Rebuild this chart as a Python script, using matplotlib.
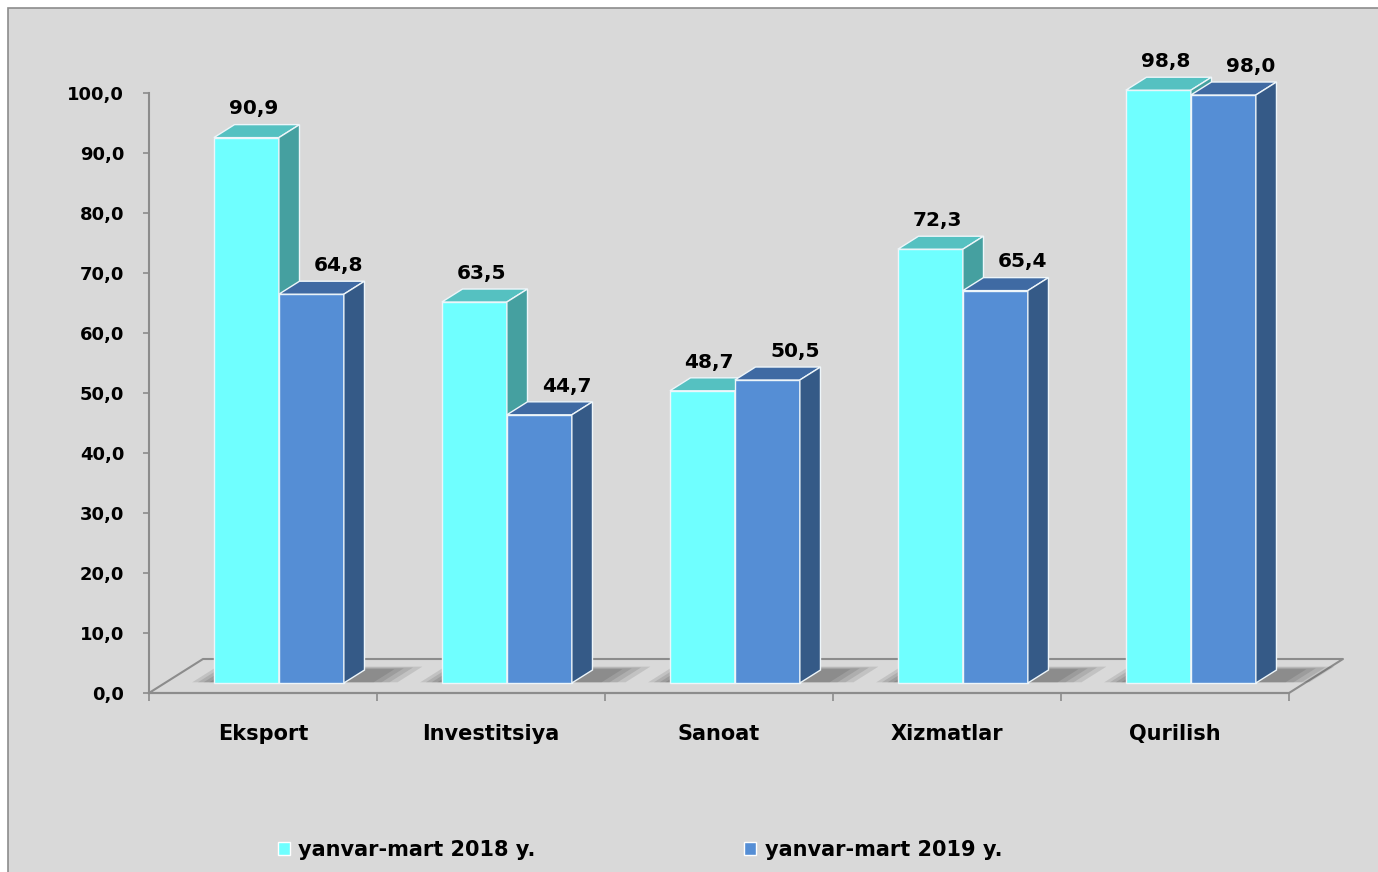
import numpy as np
import matplotlib.pyplot as plt
from matplotlib.patches import Polygon, Rectangle, Patch

# data
categories = ["Eksport", "Investitsiya", "Sanoat", "Xizmatlar", "Qurilish"]
values_2018 = [90.9, 63.5, 48.7, 72.3, 98.8]
values_2019 = [64.8, 44.7, 50.5, 65.4, 98.0]
series_names = ["yanvar-mart 2018 y.", "yanvar-mart 2019 y."]
yticks = np.arange(0, 101, 10)


def fmt(v):
    return f"{v:.1f}".replace(".", ",")


# colours: front, top, side
cyan = ("#6fffff", "#55c1c1", "#45a0a0")
blue = ("#558ed5", "#3f6aa3", "#355a87")

# pseudo 3d geometry (data units)
DX, DY = 0.2368, 5.667   # full floor depth
F0, FD = 0.294, 0.382    # bar start depth and bar depth (fractions)
W = 0.285                # bar width

fig = plt.figure(figsize=(13.78, 8.72), dpi=100)
fig.patch.set_facecolor("white")
fig.add_artist(Rectangle((8 / 1378, -0.02), 1.1, 864 / 872 + 0.02,
                         transform=fig.transFigure, facecolor="#d9d9d9",
                         edgecolor="#8c8c8c", lw=1.2, zorder=-5))

ax = fig.add_axes([0, 0, 1, 1])
ax.set_facecolor("none")
ax.set_xlim(-1.1535, 4.8904)
ax.set_ylim(-29.833, 115.5)


def draw_box(x0, v, cols):
    bx, by = x0 + F0 * DX, F0 * DY
    ox, oy = FD * DX, FD * DY
    front = [(bx, by), (bx + W, by), (bx + W, by + v), (bx, by + v)]
    top = [(bx, by + v), (bx + W, by + v), (bx + W + ox, by + v + oy), (bx + ox, by + v + oy)]
    side = [(bx + W, by), (bx + W + ox, by + oy), (bx + W + ox, by + v + oy), (bx + W, by + v)]
    for pts, c in zip((front, top, side), cols):
        ax.add_patch(Polygon(pts, closed=True, facecolor=c, edgecolor="#eef6fa",
                             lw=1.0, zorder=3))


def floor_poly(xa, xb, da, db):
    return [(xa + da * DX, da * DY), (xb + da * DX, da * DY),
            (xb + db * DX, db * DY), (xa + db * DX, db * DY)]


# floor outline
ax.plot([-0.5, 4.5, 4.5 + DX, -0.5 + DX, -0.5], [0, 0, DY, DY, 0],
        color="#8c8c8c", lw=1.5, zorder=1)

# soft shadows on the floor around each bar pair
for i in range(len(categories)):
    for k in range(4):
        e = 0.025 * (4 - k)
        ax.add_patch(Polygon(floor_poly(i - W - e, i + W + FD * DX + e * 1.4,
                                        F0 + 0.02, min(F0 + FD + e, 0.95)),
                             closed=True, facecolor="#000000", edgecolor="none",
                             lw=0, alpha=0.1, zorder=2))

# bars
for i in range(len(categories)):
    draw_box(i - W, values_2018[i], cyan)
    draw_box(i, values_2019[i], blue)
    ax.text(i - W / 2 + F0 * DX + 0.03, F0 * DY + values_2018[i] + 4.8, fmt(values_2018[i]),
            ha="center", va="center", fontsize=14.5, fontweight="bold", zorder=5)
    ax.text(i + W / 2 + F0 * DX + 0.12, F0 * DY + values_2019[i] + 4.8, fmt(values_2019[i]),
            ha="center", va="center", fontsize=14.5, fontweight="bold", zorder=5)

# axes
for s in ("top", "right"):
    ax.spines[s].set_visible(False)
ax.spines["left"].set_position(("data", -0.5))
ax.spines["left"].set_bounds(0, 100)
ax.spines["bottom"].set_position(("data", 0))
ax.spines["bottom"].set_bounds(-0.5, 4.5)
for s in ("left", "bottom"):
    ax.spines[s].set_color("#8c8c8c")
    ax.spines[s].set_linewidth(1.5)

ax.set_yticks(yticks)
ax.set_yticklabels([fmt(v) for v in yticks], fontweight="bold")
ax.tick_params(axis="y", direction="out", length=4.3, width=1.2, color="#8c8c8c",
               labelsize=13, pad=13.5)

ax.set_xticks(range(len(categories)))
ax.set_xticklabels(categories, fontweight="bold")
ax.set_xticks(np.arange(-0.5, len(categories), 1.0), minor=True)
ax.tick_params(axis="x", which="major", length=0, labelsize=15, pad=22)
ax.tick_params(axis="x", which="minor", direction="out", length=5.5, width=1.2,
               color="#8c8c8c")

# legend
handles = [Patch(facecolor=cyan[0], edgecolor="white"),
           Patch(facecolor=blue[0], edgecolor="white")]
ax.legend(handles, series_names, ncol=2, loc="center left",
          bbox_to_anchor=(278 / 1378, 22 / 872), frameon=False, borderpad=0,
          borderaxespad=0, handlelength=0.58, handleheight=0.58, handletextpad=0.4,
          columnspacing=10.0, prop={"weight": "bold", "size": 15})

fig.savefig("out.png", dpi=100)
